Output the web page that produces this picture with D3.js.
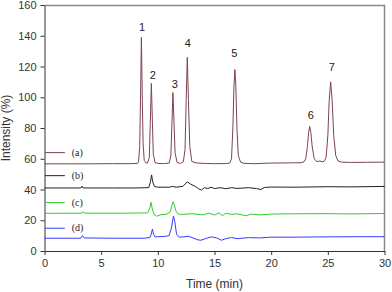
<!DOCTYPE html>
<html>
<head>
<meta charset="utf-8">
<script src="https://cdn.jsdelivr.net/npm/d3@7"></script>
<style>
  body { margin: 0; background: #fff; }
  text { font-family: "Liberation Sans", Arial, sans-serif; }
</style>
</head>
<body>
<div id="chart"></div>
<script>
// chromatogram traces (time in min, intensity in %)
const timeA = [0, 2, 4, 6, 7.5, 8.2, 8.3, 8.4, 8.47, 8.55, 8.63, 8.7, 8.8, 8.95, 9.1, 9.25, 9.33, 9.43, 9.52, 9.6, 9.75, 10, 10.5, 11.0, 11.15, 11.25, 11.33, 11.42, 11.52, 11.7, 12.0, 12.25, 12.4, 12.5, 12.6, 12.7, 12.82, 13.0, 13.4, 14, 15, 16, 16.35, 16.5, 16.62, 16.72, 16.8, 16.88, 16.98, 17.1, 17.3, 17.6, 18.5, 20, 21.5, 22.6, 22.9, 23.05, 23.2, 23.3, 23.4, 23.5, 23.62, 23.8, 24.0, 24.3, 24.55, 24.7, 24.85, 25.0, 25.12, 25.25, 25.38, 25.52, 25.7, 25.9, 26.2, 27, 28.5, 30];
const valA  = [56.7, 56.7, 56.7, 56.8, 56.8, 57, 58, 68, 98, 139, 98, 70, 59, 57.3, 57.2, 61, 83, 109, 84, 63, 57.5, 57, 56.8, 57.2, 62, 84, 103, 85, 64, 57.5, 57, 58, 66, 98, 126, 98, 68, 58.2, 57.3, 57, 56.8, 56.9, 57.2, 60, 80, 108, 118, 108, 80, 62, 57.8, 57, 56.8, 57.2, 57.3, 57.4, 58, 60, 68, 77, 81, 77, 68, 60, 58.2, 58.5, 58, 58.5, 61, 75, 98, 110, 98, 75, 62, 58.5, 57.8, 57.6, 57.7, 57.8];

const timeB = [0, 3.2, 3.3, 3.4, 6, 8, 9.2, 9.35, 9.45, 9.55, 9.7, 10, 11, 11.3, 11.6, 12.2, 12.6, 12.9, 13.3, 13.6, 13.85, 14.1, 14.4, 14.7, 15, 15.5, 16, 16.5, 17, 18, 18.7, 19.1, 19.4, 20, 22, 25, 27, 30];
const valB  = [41, 41, 42.2, 41, 41, 41, 41.2, 45, 49.5, 45, 42, 41.5, 41.5, 42, 41.5, 42, 45, 43.5, 42, 40.5, 39.6, 41.2, 40.6, 41.5, 40.6, 41.2, 40.5, 41.2, 40.7, 41.2, 40.6, 40, 41.3, 41.6, 41.5, 41.8, 41.7, 42];

const timeC = [0, 3.2, 3.4, 3.6, 7, 9.1, 9.3, 9.4, 9.5, 9.65, 9.9, 10.2, 10.8, 11.1, 11.25, 11.35, 11.45, 11.6, 11.8, 12.2, 13, 14, 14.5, 15, 15.4, 15.7, 16, 16.5, 17, 17.8, 18.2, 19, 20, 22, 25, 27, 30];
const valC  = [24.5, 24.6, 25.3, 24.6, 24.6, 24.8, 28, 31.7, 28, 24, 22.6, 23.5, 24, 25.5, 30, 32.1, 30, 26, 24, 23.8, 24.3, 23.5, 24.6, 23.4, 24.8, 23, 24.5, 23.8, 24.2, 22.9, 24, 23.5, 24, 24.2, 24.3, 24.1, 24.4];

const timeD = [0, 3.2, 3.35, 3.5, 6, 8.8, 9.3, 9.42, 9.52, 9.62, 9.75, 10, 10.6, 11.0, 11.2, 11.38, 11.5, 11.65, 11.9, 12.3, 12.7, 13, 13.5, 13.8, 14.2, 14.7, 15.2, 15.6, 16, 16.5, 17, 18, 19, 20, 22, 25, 28, 30];
const valD  = [8.3, 8.3, 10, 8.5, 8.3, 8.3, 8.8, 11, 14.3, 11, 9.2, 9.3, 9.5, 10, 15, 22.8, 19, 11, 9, 9.2, 9.6, 8.8, 7.3, 7, 8, 9.2, 8.5, 7, 8, 8.8, 8, 8.7, 8.5, 9, 9, 9.2, 9.3, 9.3];

// peak numbers on trace (a)
const peakLabels = ["1", "2", "3", "4", "5", "6", "7"];
const peakTimes  = [8.6, 9.55, 11.5, 12.65, 16.75, 23.5, 25.35];
const peakLabelY = [143, 112, 106, 133, 126, 86, 117];

// legend
const legendNames = ["(a)", "(b)", "(c)", "(d)"];
const legendY     = [64, 49, 31.5, 14.8];
const colors      = ["#7d4450", "#222222", "#33cc33", "#3a3aff"];

const xTicks = [0, 5, 10, 15, 20, 25, 30];
const yTicks = [0, 20, 40, 60, 80, 100, 120, 140, 160];

const W = 392, H = 292;
const margin = { top: 5, right: 7.5, bottom: 41, left: 44.5 };
const width = W - margin.left - margin.right;
const height = H - margin.top - margin.bottom;

const svg = d3.select("#chart").append("svg")
    .attr("width", W)
    .attr("height", H);

const g = svg.append("g")
    .attr("transform", `translate(${margin.left},${margin.top})`);

const x = d3.scaleLinear().domain([0, 30]).range([0, width]);
const y = d3.scaleLinear().domain([0, 160]).range([height, 0]);

// frame (top / right)
g.append("path")
    .attr("d", `M0,0.5H${width}V${height}`)
    .attr("fill", "none")
    .attr("stroke", "#8a8a8a")
    .attr("stroke-width", 1.5);

// axes
const xAxis = g.append("g")
    .attr("transform", `translate(0,${height})`)
    .call(d3.axisBottom(x).tickValues(xTicks).tickSize(4).tickPadding(4).tickSizeOuter(0));
const yAxis = g.append("g")
    .call(d3.axisLeft(y).tickValues(yTicks).tickSize(4).tickPadding(4).tickSizeOuter(0));

[xAxis, yAxis].forEach(a => {
    a.select(".domain").attr("stroke", "#333");
    a.selectAll(".tick line").attr("stroke", "#333");
    a.selectAll("text")
        .attr("fill", "#333")
        .style("font-size", "11px")
        .style("font-family", "'Liberation Sans', Arial, sans-serif");
});

// traces
const traces = [[timeA, valA], [timeB, valB], [timeC, valC], [timeD, valD]];
const line = d3.line()
    .x(d => x(d[0]))
    .y(d => y(d[1]));

traces.forEach(([ts, vs], i) => {
    g.append("path")
        .datum(ts.map((t, j) => [t, vs[j]]))
        .attr("fill", "none")
        .attr("stroke", colors[i])
        .attr("stroke-width", 1)
        .attr("stroke-linejoin", "round")
        .attr("d", line);
});

// legend
legendNames.forEach((name, i) => {
    g.append("line")
        .attr("x1", x(0.05)).attr("x2", x(1.8))
        .attr("y1", y(legendY[i])).attr("y2", y(legendY[i]))
        .attr("stroke", colors[i])
        .attr("stroke-width", 1);
    g.append("text")
        .attr("x", x(2.4))
        .attr("y", y(legendY[i]) + 3)
        .style("font-family", "'Liberation Serif', 'Times New Roman', serif")
        .style("font-size", "10px")
        .attr("fill", "#222")
        .text(name);
});

// peak numbers
peakLabels.forEach((lab, i) => {
    g.append("text")
        .attr("x", x(peakTimes[i]))
        .attr("y", y(peakLabelY[i]))
        .attr("text-anchor", "middle")
        .style("font-size", "11px")
        .attr("fill", "#222")
        .text(lab);
});

// axis titles
g.append("text")
    .attr("x", width / 2)
    .attr("y", height + 37)
    .attr("text-anchor", "middle")
    .style("font-size", "12px")
    .attr("fill", "#333")
    .text("Time (min)");

g.append("text")
    .attr("transform", "rotate(-90)")
    .attr("x", -height / 2)
    .attr("y", -35)
    .attr("text-anchor", "middle")
    .style("font-size", "12px")
    .attr("fill", "#333")
    .text("Intensity (%)");
</script>
</body>
</html>
